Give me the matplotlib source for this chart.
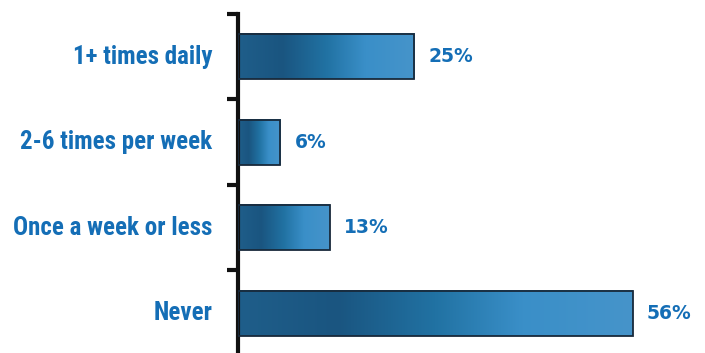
import matplotlib
matplotlib.use("Agg")
from matplotlib import pyplot as plt
from matplotlib import font_manager
from matplotlib.colors import LinearSegmentedColormap
import numpy as np

# data
categories = ["1+ times daily", "2-6 times per week", "Once a week or less", "Never"]
values = [25, 6, 13, 56]
labels = ["25%", "6%", "13%", "56%"]

text_blue = "#146eb6"
grad = LinearSegmentedColormap.from_list(
    "bar", [(0.0, "#1f5e8a"), (0.25, "#1a5580"), (0.5, "#2172a3"),
            (0.72, "#3a8fc8"), (1.0, "#4694ca")])

# look for a condensed font
names = set(f.name for f in font_manager.fontManager.ttflist)
cond = None
for n in ["Liberation Sans Narrow", "DejaVu Sans Condensed", "Roboto Condensed",
          "Open Sans Condensed", "Noto Sans Condensed"]:
    if n in names:
        cond = n
        break
if cond is None:
    cond = "DejaVu Sans"
    cat_size = 13
else:
    cat_size = 18

fig = plt.figure(figsize=(7.05, 3.53), dpi=100)
ax = fig.add_axes([238/705, 0, 1 - 238/705, 1 - 14/353])

h = 0.53
y = np.arange(len(categories))
g = np.linspace(0, 1, 256).reshape(1, -1)
for yi, v, lab in zip(y, values, labels):
    ax.imshow(g, cmap=grad, aspect="auto", extent=(0, v, yi + h/2, yi - h/2),
              zorder=2, interpolation="bicubic")
    ax.barh(yi, v, height=h, facecolor="none", edgecolor="#18293a", linewidth=1.3, zorder=3)
    ax.text(v + 2.0, yi, lab, va="center", ha="left", fontsize=13.5,
            fontweight="bold", color=text_blue, family="DejaVu Sans")

ax.set_xlim(0, (705 - 238) / 7.05)
ax.set_ylim(3.465, -0.5)

for s in ["top", "right", "bottom"]:
    ax.spines[s].set_visible(False)
ax.spines["left"].set_linewidth(3)
ax.spines["left"].set_color("#111111")

ax.set_xticks([])
ax.set_yticks([-0.5, 0.5, 1.5, 2.5])
ax.set_yticklabels([])
ax.tick_params(axis="y", length=8, width=3, color="#111111", direction="out")

for yi, c in zip(y, categories):
    ax.text(-3.6, yi, c, ha="right", va="center", fontsize=cat_size, fontweight="bold",
            fontstretch="condensed", color=text_blue, family=[cond, "DejaVu Sans"])

fig.savefig("out.png", dpi=100)
